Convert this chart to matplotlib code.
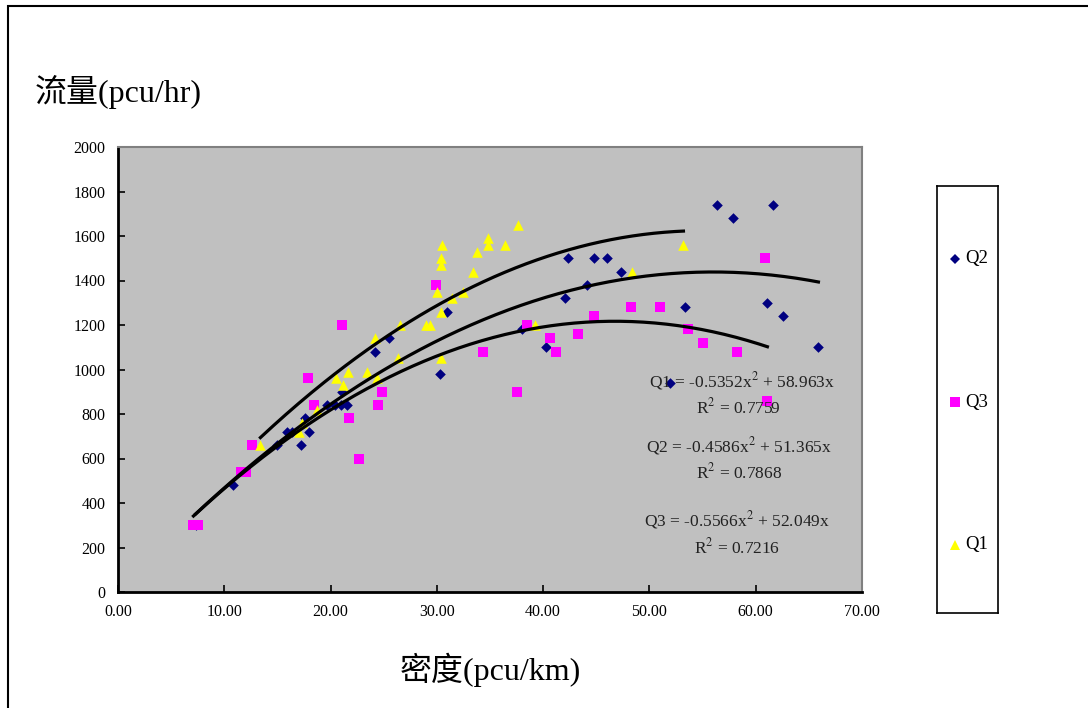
import numpy as np
import matplotlib
matplotlib.use("Agg")
import matplotlib.pyplot as plt
from matplotlib.patches import Rectangle

plt.rcParams['font.family'] = ['Liberation Serif', 'Noto Sans CJK TC', 'DejaVu Sans']
plt.rcParams['mathtext.fontset'] = 'stix'

# density (pcu/km) and flow (pcu/hr) per series
q2_x = [7.3, 10.8, 15.0, 15.9, 16.4, 17.2, 17.6, 18.0, 19.7, 20.4, 21.0, 21.5, 21.1, 24.2, 25.5,
        30.3, 31.0, 38.0, 40.3, 42.1, 42.3, 44.1, 44.8, 46.0, 47.3, 51.9, 53.3, 56.4, 57.9,
        61.1, 61.6, 62.6, 65.9]
q2_y = [300, 480, 660, 720, 720, 660, 780, 720, 840, 840, 840, 840, 900, 1080, 1140,
        980, 1260, 1180, 1100, 1320, 1500, 1380, 1500, 1500, 1440, 940, 1280, 1740, 1680,
        1300, 1740, 1240, 1100]

q3_x = [7.1, 7.5, 11.6, 12.0, 12.6, 17.9, 18.4, 21.1, 21.7, 22.7, 24.5, 24.8, 29.9, 34.3,
        37.5, 38.5, 40.6, 41.2, 43.3, 44.8, 48.3, 51.0, 53.6, 55.0, 58.2, 60.9, 61.1]
q3_y = [300, 300, 540, 540, 660, 960, 840, 1200, 780, 600, 840, 900, 1380, 1080,
        900, 1200, 1140, 1080, 1160, 1240, 1280, 1280, 1180, 1120, 1080, 1500, 860]

q1_x = [13.4, 17.0, 17.3, 18.7, 20.5, 21.2, 21.6, 23.4, 24.2, 24.4, 26.3, 26.5, 29.0, 29.4,
        30.0, 30.4, 30.4, 30.4, 30.5, 30.4, 31.4, 32.5, 33.4, 33.8, 34.8, 34.8, 36.4, 37.6,
        39.2, 48.4, 53.2]
q1_y = [660, 720, 760, 820, 960, 930, 990, 990, 1140, 960, 1050, 1200, 1200, 1200,
        1350, 1260, 1470, 1500, 1560, 1050, 1320, 1350, 1440, 1530, 1590, 1560, 1560, 1650,
        1200, 1440, 1560]

# trendline coefficients (a*x^2 + b*x) and R^2
q1_fit = [-0.5352, 58.963, 0.0]
q2_fit = [-0.4586, 51.365, 0.0]
q3_fit = [-0.5566, 52.049, 0.0]
q1_r2 = 0.7759
q2_r2 = 0.7868
q3_r2 = 0.7216

x_ticks = np.arange(0, 71, 10)
y_ticks = np.arange(0, 2001, 200)


def trend(ax, xs, coef):
    xl = np.linspace(min(xs), max(xs), 200)
    ax.plot(xl, np.polyval(coef, xl), color='black', lw=2.3, zorder=4)


def eq_text(name, coef):
    return f"{name} = {coef[0]}x$^2$ + {coef[1]:.3f}x"


fig = plt.figure(figsize=(10.88, 7.08), dpi=100)
ax = fig.add_axes([118 / 1088, 1 - 592 / 708, 744 / 1088, 445 / 708])
ax.set_facecolor('#C0C0C0')

ax.scatter(q2_x, q2_y, marker='D', s=5.4 ** 2, color='#000080', linewidths=0, zorder=2)
ax.scatter(q3_x, q3_y, marker='s', s=6.8 ** 2, color='#FF00FF', linewidths=0, zorder=2)
ax.scatter(q1_x, q1_y, marker='^', s=7.6 ** 2, color='#FFFF00', linewidths=0, zorder=2)

trend(ax, q1_x, q1_fit)
trend(ax, q2_x, q2_fit)
trend(ax, q3_x, q3_fit)

fs_eq = 12.5
tc = '#222222'
ax.text(58.7, 948, eq_text('Q1', q1_fit), ha='center', va='center', fontsize=fs_eq, color=tc, zorder=5)
ax.text(58.4, 831, f"R$^2$ = {q1_r2}", ha='center', va='center', fontsize=fs_eq, color=tc, zorder=5)
ax.text(58.4, 656, eq_text('Q2', q2_fit), ha='center', va='center', fontsize=fs_eq, color=tc, zorder=5)
ax.text(58.4, 539, f"R$^2$ = {q2_r2}", ha='center', va='center', fontsize=fs_eq, color=tc, zorder=5)
ax.text(58.2, 324, eq_text('Q3', q3_fit), ha='center', va='center', fontsize=fs_eq, color=tc, zorder=5)
ax.text(58.2, 202, f"R$^2$ = {q3_r2}", ha='center', va='center', fontsize=fs_eq, color=tc, zorder=5)

ax.set_xlim(0, 70)
ax.set_ylim(0, 2000)
ax.set_xticks(x_ticks)
ax.set_xticklabels([f"{v:.2f}" for v in x_ticks])
ax.set_yticks(y_ticks)
ax.set_yticklabels([str(v) for v in y_ticks])
ax.tick_params(direction='in', length=5, width=1.2, labelsize=11.5, pad=9)
for side in ['left', 'bottom']:
    ax.spines[side].set_color('black')
    ax.spines[side].set_linewidth(2)
for side in ['top', 'right']:
    ax.spines[side].set_color('#808080')
    ax.spines[side].set_linewidth(1.5)

fig.text(35 / 1088, 1 - 92 / 708, '流量(pcu/hr)', fontsize=23, va='center', ha='left')
fig.text(490 / 1088, 1 - 670 / 708, '密度(pcu/km)', fontsize=23, va='center', ha='center')

# outer chart frame
fig.add_artist(Rectangle((8 / 1088, -0.1), 1.2, 1.1 - 6 / 708, transform=fig.transFigure,
                         fill=False, edgecolor='black', lw=1.5))

# legend box
lax = fig.add_axes([937 / 1088, 1 - 613 / 708, 61 / 1088, 427 / 708])
lax.set_xlim(0, 1)
lax.set_ylim(0, 1)
lax.set_xticks([])
lax.set_yticks([])
for s in lax.spines.values():
    s.set_linewidth(1.2)
    s.set_color('black')
entries = [('Q2', 'D', 5.0, '#000080', 1 - (259 - 186) / 427),
           ('Q3', 's', 6.8, '#FF00FF', 1 - (402 - 186) / 427),
           ('Q1', '^', 7.4, '#FFFF00', 1 - (545 - 186) / 427)]
for name, mk, ms, col, yy in entries:
    lax.plot([0.3], [yy], marker=mk, markersize=ms, color=col, markeredgewidth=0, linestyle='none')
    lax.text(0.47, yy, name, fontsize=13.5, va='center', ha='left')

fig.savefig('out.png', dpi=100)
